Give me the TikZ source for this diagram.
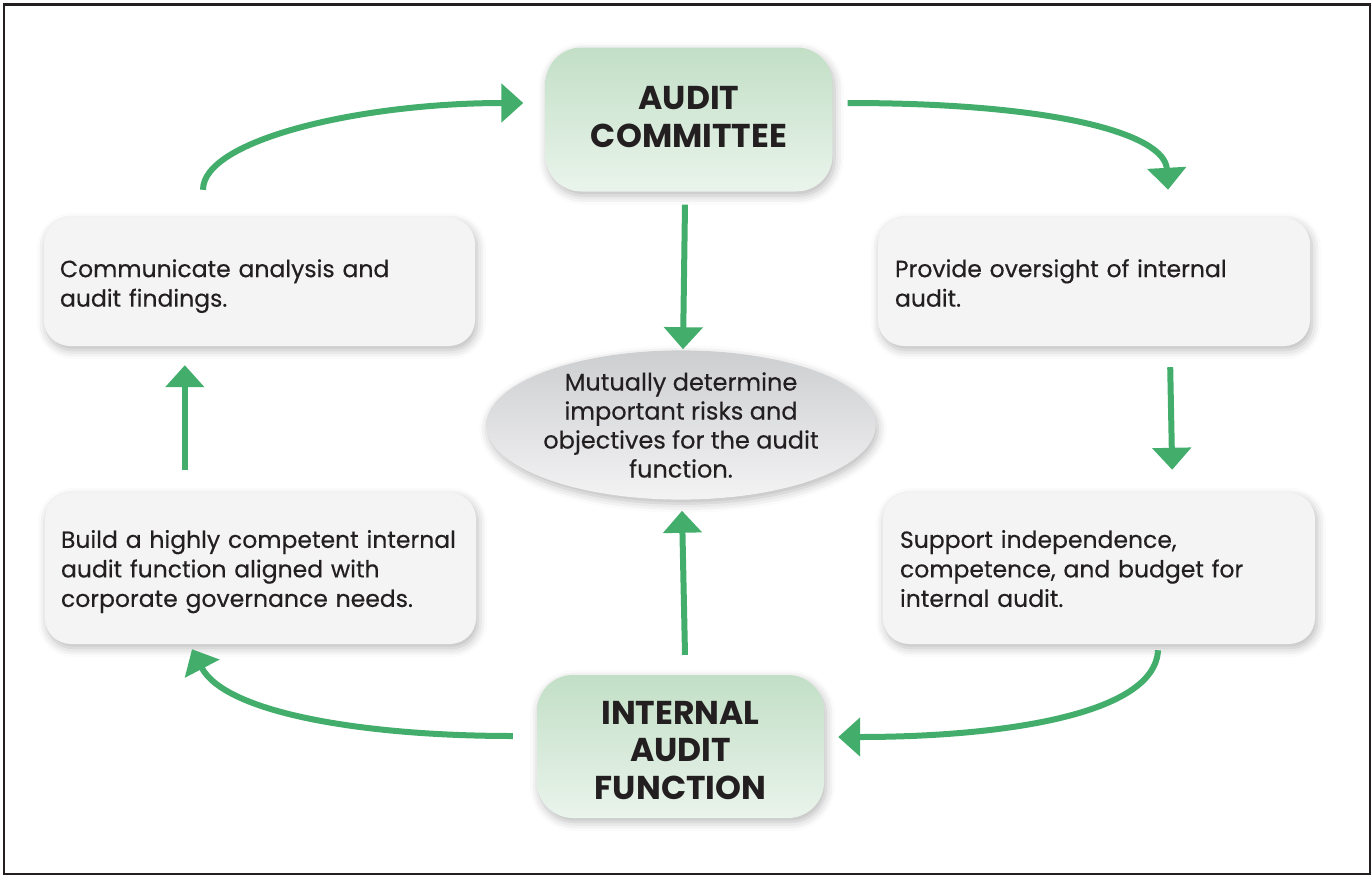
\documentclass[tikz,border=0pt]{standalone}
\usepackage{fontspec}
\setmainfont{Poppins}
\newfontfamily\bodyfont{Poppins}[FakeBold=0.35]
\usetikzlibrary{arrows.meta,shapes.geometric,shadows.blur,calc}
\definecolor{arrgreen}{HTML}{43AE6B}
\definecolor{boxgray}{HTML}{F4F4F4}
\definecolor{txt}{HTML}{231F20}
\definecolor{gtop}{HTML}{C2DFC6}
\definecolor{gbot}{HTML}{EAF4EC}
\definecolor{etop}{HTML}{CDCED0}
\definecolor{ebot}{HTML}{F3F3F4}
\newcommand{\shiftlines}[2]{\raisebox{#1}[\height][\depth]{\begin{tabular}{@{}c@{}}#2\end{tabular}}}
\newcommand{\shiftleft}[2]{\raisebox{#1}[\height][\depth]{\begin{tabular}{@{}l@{}}#2\end{tabular}}}
\tikzset{
  softshadow/.style={blur shadow={shadow xshift=2pt,shadow yshift=-4pt,shadow blur radius=9pt,shadow opacity=28}},
  infobox/.style={softshadow,rounded corners=26pt,fill=boxgray,text=txt,
     minimum width=431pt,text width=399pt,inner xsep=16pt,align=left,
     font=\bodyfont\fontsize{23.5}{29.5}\selectfont},
  keybox/.style={softshadow,rounded corners=36pt,top color=gtop,bottom color=gbot,
     minimum width=287pt,minimum height=144pt,text=txt,align=center,
     font=\fontsize{33}{37.5}\selectfont\bfseries},
  centerell/.style={ellipse,softshadow,top color=etop,bottom color=ebot,
     minimum width=388pt,minimum height=144pt,inner sep=0pt,text=txt,align=center,
     font=\bodyfont\fontsize{24}{29}\selectfont},
  arr/.style={draw=arrgreen,line width=6pt,-{Triangle[length=22pt,width=38pt]}},
}
\begin{document}
\begin{tikzpicture}[x=1pt,y=-1pt]
\useasboundingbox (0,0) rectangle (1371,876);
\draw[line width=2.5pt,color=txt] (4,4.3) rectangle (1370,874);

\node[keybox] (ac) at (689,119.5) {\shiftlines{-1.5pt}{AUDIT\\COMMITTEE}};
\node[keybox,minimum height=143pt] (iaf) at (680.5,746.5) {\shiftlines{-7.5pt}{INTERNAL\\AUDIT\\FUNCTION}};
\node[centerell] (ell) at (681,425) {\mbox{Mutually determine}\\\mbox{important risks and}\\\mbox{objectives for the audit}\\function.};

\node[infobox,minimum height=128pt] (lt) at (259.5,282) {\shiftleft{-4pt}{Communicate analysis and\\audit findings.}};
\node[infobox,minimum height=151pt] (lb) at (260.5,568.5) {\shiftleft{-3pt}{Build a highly competent internal\\audit function aligned with\\corporate governance needs.}};
\node[infobox,minimum height=128pt,minimum width=432pt,text width=398pt,inner xsep=17pt] (rt) at (1094,282) {\shiftleft{-4pt}{Provide oversight of internal\\audit.}};
\node[infobox,minimum height=151pt,minimum width=432pt,text width=398pt,inner xsep=17pt] (rb) at (1099,568.5) {\shiftleft{-3pt}{Support independence,\\competence, and budget for\\internal audit.}};

% vertical arrows
\draw[arr] ([xshift=-4pt,yshift=-13pt]ac.south) -- ([xshift=2pt,yshift=1pt]ell.north);
\draw[arr] ([xshift=4.5pt,yshift=20pt]iaf.north) -- ([xshift=1pt,yshift=-11pt]ell.south);
\draw[arr] ([xshift=-140pt,yshift=-21pt]rt.south east) -- ([xshift=-143pt,yshift=23pt]rb.north east);
\draw[arr] ([xshift=140pt,yshift=23pt]lb.north west) -- ([xshift=141pt,yshift=-19pt]lt.south west);

% curved arrows
\draw[arr] ([xshift=-56.5pt,yshift=28pt]lt.north) .. controls +(0,-50) and +(-163,0) .. ([xshift=-22pt,yshift=16.5pt]ac.west);
\draw[arr] ([xshift=15pt,yshift=16.5pt]ac.east) .. controls +(212,0) and +(-3,-55) .. ([xshift=74pt,yshift=28pt]rt.north);
\draw[arr] ([xshift=59pt,yshift=-6pt]rb.south) .. controls +(-3,65) and +(162,0) .. ([xshift=14pt,yshift=9.5pt]iaf.east);
\draw[arr] ([xshift=-24pt,yshift=10.5pt]iaf.west) .. controls +(-153,0) and +(33,63) .. ([xshift=-68.5pt,yshift=-5pt]lb.south);
\end{tikzpicture}
\end{document}
